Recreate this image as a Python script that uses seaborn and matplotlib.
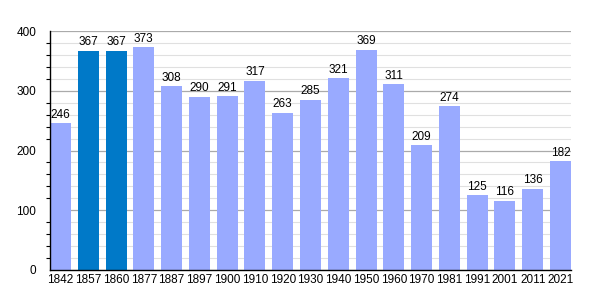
import matplotlib
matplotlib.use("Agg")
import matplotlib.pyplot as plt
import seaborn as sns
import pandas as pd
from matplotlib.ticker import MultipleLocator

years = ["1842", "1857", "1860", "1877", "1887", "1897", "1900", "1910", "1920", "1930",
         "1940", "1950", "1960", "1970", "1981", "1991", "2001", "2011", "2021"]
population = [246, 367, 367, 373, 308, 290, 291, 317, 263, 285,
              321, 369, 311, 209, 274, 125, 116, 136, 182]
highlight = ["no", "yes", "yes", "no", "no", "no", "no", "no", "no", "no",
             "no", "no", "no", "no", "no", "no", "no", "no", "no"]

df = pd.DataFrame({"year": years, "pop": population, "hl": highlight})

sns.set_style("white")
plt.rcParams["font.family"] = ["Liberation Sans", "DejaVu Sans"]
plt.rcParams["text.color"] = "black"
plt.rcParams["xtick.color"] = "black"
plt.rcParams["ytick.color"] = "black"

fig = plt.figure(figsize=(6, 3), dpi=100)
ax = fig.add_axes([50/600, 30/300, 521/600, 239/300])

palette = {"no": "#99aaff", "yes": "#0079c8"}
sns.barplot(data=df, x="year", y="pop", hue="hl", palette=palette, dodge=False,
            width=0.756, legend=False, ax=ax, saturation=1, linewidth=0)

ax.set_xlim(-0.378, 18.378)
ax.set_ylim(0, 400)
ax.yaxis.set_major_locator(MultipleLocator(100))
ax.yaxis.set_minor_locator(MultipleLocator(20))
ax.grid(axis="y", which="major", color="#aaaaaa", linewidth=0.9, zorder=0)
ax.grid(axis="y", which="minor", color="#e0e0e0", linewidth=0.8, zorder=0)
ax.set_axisbelow(True)

for s in ["top", "right"]:
    ax.spines[s].set_visible(False)
for s in ["left", "bottom"]:
    ax.spines[s].set_color("black")
    ax.spines[s].set_linewidth(1)

ax.tick_params(axis="y", which="major", direction="out", length=5, width=0.8,
               labelsize=8.5, pad=5, colors="black")
ax.tick_params(axis="y", which="minor", direction="out", length=3, width=0.8, left=True,
               colors="black")
ax.tick_params(axis="x", which="both", length=0, labelsize=8.5, pad=3, colors="black")
ax.set_xlabel("")
ax.set_ylabel("")

for i, v in enumerate(population):
    ax.text(i, v + 4, str(v), ha="center", va="bottom", fontsize=8.5, color="black")

fig.savefig("out.png", dpi=100)
